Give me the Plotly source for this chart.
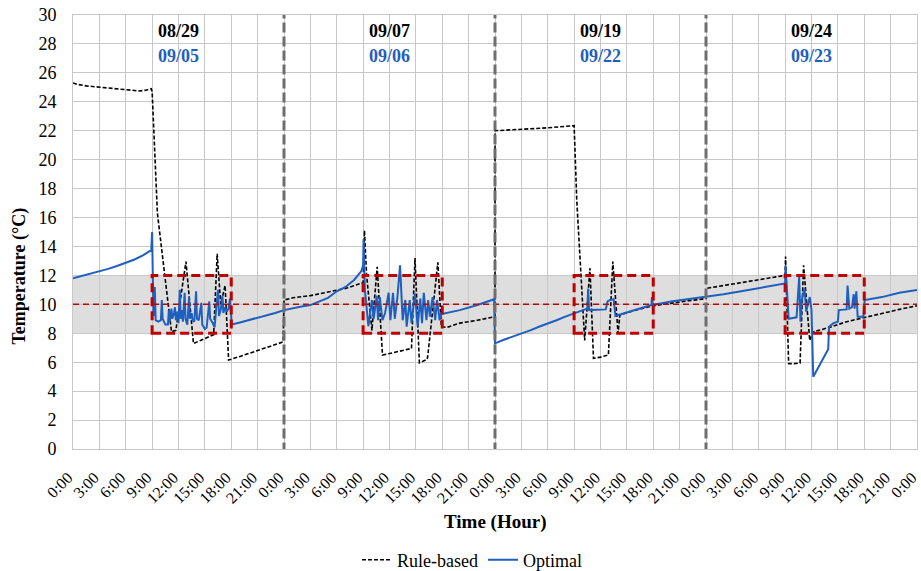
import plotly.graph_objects as go

# ---------------- data ----------------
rb_hour = [0, 0.5, 1.5, 3, 4, 5.5, 6.5, 7.5, 8.3, 8.9, 9.0, 9.6, 11.2, 11.7, 12.85, 13.7, 14.5, 15.2, 16.0, 16.4, 16.8, 17.3, 17.7, 19, 20.5, 22, 23.9,
           24.0, 25, 27, 29, 31, 33.0, 33.15, 33.4, 34.0, 34.6, 35.2, 36, 37, 38.5, 38.9, 39.4, 40.3, 40.4, 41.5, 41.9, 42.5, 44, 46, 48.0,
           48.0, 50, 52, 54, 56, 57.0, 57.3, 58.2, 58.8, 59.2, 60.0, 60.9, 61.4, 62.0, 62.2, 64, 66, 68, 70, 72.0,
           72.0, 74, 76, 78, 80, 81.0, 81.05, 81.4, 82.0, 82.7, 83.1, 83.8, 84.2, 86, 88, 90, 92, 94, 96]
rb_temp = [25.3, 25.2, 25.1, 25.0, 24.95, 24.85, 24.8, 24.75, 24.8, 24.9, 24.7, 16.3, 8.1, 8.2, 12.95, 7.3, 7.5, 7.7, 7.9, 13.5, 10.0, 11.3, 6.15, 6.4, 6.7, 7.0, 7.4,
           10.3, 10.45, 10.6, 10.85, 11.1, 11.5, 15.1, 12.0, 8.2, 12.6, 6.5, 6.6, 6.75, 6.95, 13.2, 5.96, 6.2, 6.7, 12.9, 8.45, 8.4, 8.7, 8.9, 9.15,
           22.0, 22.05, 22.1, 22.2, 22.3, 22.35, 17.2, 7.5, 12.5, 6.27, 6.35, 6.5, 12.95, 8.0, 9.26, 9.6, 9.9, 10.1, 10.25, 10.4,
           11.1, 11.3, 11.5, 11.7, 11.85, 12.0, 13.3, 5.9, 5.9, 5.95, 12.7, 7.5, 8.1, 8.4, 8.8, 9.1, 9.4, 9.65, 9.9]

opt_hour = [0, 1, 2, 3, 4, 5, 6, 7, 8, 8.9, 9.0, 9.05, 9.15, 9.3, 9.4, 9.7, 10.0, 10.1, 10.2, 10.5, 10.8, 10.9, 11.0, 11.2, 11.3, 11.5, 11.6, 11.7,
            11.9, 12.0, 12.15, 12.25, 12.4, 12.5, 12.7, 12.8, 13.0, 13.2, 13.3, 13.5, 13.6, 13.8, 14.0, 14.1, 14.3, 14.6, 14.7, 15.0, 15.2,
            15.5, 15.6, 15.9, 16.1, 16.3, 16.5, 16.6, 16.8, 17.0, 17.1, 17.3, 17.5, 17.7, 17.85, 17.95, 18.05, 19, 20, 21, 22, 23, 24,
            25, 26, 27, 28, 29, 30, 31, 32, 32.8, 33.0, 33.05, 33.2, 33.4, 33.6, 34.0, 34.2, 34.55, 34.7, 34.9, 35.2, 35.5, 35.9, 36.1,
            36.4, 36.6, 36.9, 37.2, 37.5, 37.8, 37.95, 38.3, 38.5, 38.9, 39.2, 39.5, 39.7, 39.9, 40.2, 40.4, 40.6, 40.9, 41.2, 41.4, 41.7,
            41.85, 42.1, 44, 46, 47.9, 48.0,
            49, 50, 51, 52, 53, 54, 55, 56, 57, 58, 58.5, 58.6, 58.7, 59.5, 60.6, 60.8, 61.1, 61.5, 61.7, 62.5, 64, 65.8, 65.85, 65.95,
            68, 70, 72,
            74, 76, 78, 80, 81.0, 81.05, 81.4, 82.3, 82.6, 82.75, 82.9, 83.2, 83.4, 83.6, 83.8, 84.0, 84.2, 85.9, 86.0, 86.5, 87.0, 87.1,
            88.0, 88.1, 88.3, 88.6, 88.8, 88.9, 89.1, 89.25, 89.9, 90.05, 92, 94, 96]
opt_temp = [11.8, 11.95, 12.15, 12.3, 12.45, 12.65, 12.85, 13.1, 13.4, 13.75, 15.0, 13.0, 9.2, 11.2, 8.9, 8.8, 8.9, 10.3, 9.0, 8.6, 8.6, 9.6, 8.8, 9.7, 9.0, 9.4, 9.8, 8.9,
            9.5, 8.7, 11.0, 9.0, 9.6, 8.8, 10.8, 9.0, 8.6, 10.5, 9.0, 9.4, 8.9, 8.8, 10.9, 9.0, 8.9, 10.1, 8.6, 8.3, 8.4,
            10.2, 9.0, 8.7, 8.4, 9.8, 11.0, 9.2, 9.6, 10.6, 9.4, 9.8, 9.5, 9.7, 10.4, 9.6, 8.6, 8.75, 8.9, 9.05, 9.25, 9.4, 9.6,
            9.75, 9.85, 9.95, 10.2, 10.45, 10.9, 11.2, 11.7, 12.3, 12.7, 14.5, 11.0, 9.8, 8.5, 10.3, 9.0, 10.6, 8.9, 10.5, 8.9, 9.4, 10.8, 8.9,
            10.8, 9.0, 10.5, 12.7, 8.9, 10.3, 8.45, 10.3, 8.7, 10.75, 8.45, 10.4, 8.7, 10.8, 8.9, 10.3, 9.15, 10.5, 8.9, 10.3, 8.9,
            9.4, 9.35, 9.6, 9.95, 10.35, 7.3,
            7.55, 7.75, 7.95, 8.2, 8.45, 8.65, 8.9, 9.15, 9.4, 9.6, 9.7, 11.1, 9.6, 9.6, 9.65, 10.2, 10.3, 10.35, 9.2, 9.35, 9.6, 9.95, 10.5, 9.95,
            10.2, 10.35, 10.5,
            10.7, 10.9, 11.1, 11.3, 11.45, 12.7, 9.0, 9.1, 11.9, 8.8, 10.3, 11.1, 9.5, 10.0, 10.5, 9.6, 5.0, 6.9, 8.45, 8.7, 8.8, 9.6,
            9.65, 11.3, 9.7, 9.8, 10.7, 9.7, 10.9, 9.15, 9.15, 10.3, 10.5, 10.8, 11.0]

day_centers = [12, 36, 60, 84]
rb_dates = ["08/29", "09/07", "09/19", "09/24"]
opt_dates = ["09/05", "09/06", "09/22", "09/23"]
day_bounds = [24, 48, 72]
window_starts = [9, 33, 57, 81]
window_ends = [18, 42, 66, 90]
comfort_low, comfort_high, setpoint = 8, 12, 10
tick_vals = list(range(0, 97, 3))
hour_labels = ["0:00", "3:00", "6:00", "9:00", "12:00", "15:00", "18:00", "21:00"]
tick_text = hour_labels * 4 + ["0:00"]

# ---------------- style ----------------
FONT = "Liberation Serif"
BLUE = "#1F5FBF"
RED = "#C00000"
L, T, PW, PH = 73, 15, 844, 434

fig = go.Figure()
fig.add_trace(go.Scatter(x=rb_hour, y=rb_temp, mode="lines", name="Rule-based",
                         line=dict(color="black", width=1.6, dash="4px,2px")))
fig.add_trace(go.Scatter(x=opt_hour, y=opt_temp, mode="lines", name="Optimal",
                         line=dict(color=BLUE, width=2)))

shapes = []
shapes.append(dict(type="rect", xref="x", yref="y", x0=0, x1=96, y0=comfort_low, y1=comfort_high,
                   fillcolor="#DEDEDE", line=dict(width=0), layer="below"))
shapes.append(dict(type="line", xref="x", yref="y", x0=0, x1=96, y0=setpoint, y1=setpoint,
                   line=dict(color=RED, width=1.5, dash="6px,4px"), layer="above"))
for s, e in zip(window_starts, window_ends):
    shapes.append(dict(type="rect", xref="x", yref="y", x0=s, x1=e, y0=comfort_low, y1=comfort_high,
                       line=dict(color=RED, width=3, dash="9px,5px"), fillcolor="rgba(0,0,0,0)", layer="above"))
for b in day_bounds:
    shapes.append(dict(type="line", xref="x", yref="y", x0=b, x1=b, y0=-0.25, y1=30,
                       line=dict(color="#6E6E6E", width=3, dash="10px,4px"), layer="above"))

annotations = []
for c, d1, d2 in zip(day_centers, rb_dates, opt_dates):
    annotations.append(dict(x=c, y=28.9, xref="x", yref="y", text=f"<b>{d1}</b>", showarrow=False,
                            font=dict(family=FONT, size=18, color="black")))
    annotations.append(dict(x=c, y=27.2, xref="x", yref="y", text=f"<b>{d2}</b>", showarrow=False,
                            font=dict(family=FONT, size=18, color=BLUE)))
annotations.append(dict(xref="paper", yref="paper", x=(495 - L) / PW, y=(T + PH - 522) / PH,
                        text="<b>Time (Hour)</b>", showarrow=False, xanchor="center", yanchor="middle",
                        font=dict(family=FONT, size=19, color="black")))
annotations.append(dict(xref="paper", yref="paper", x=(18.5 - L) / PW, y=(T + PH - 276) / PH,
                        text="<b>Temperature (°C)</b>", textangle=-90, showarrow=False,
                        xanchor="center", yanchor="middle",
                        font=dict(family=FONT, size=18, color="black")))

fig.update_layout(
    width=921, height=571,
    margin=dict(l=L, r=921 - L - PW, t=T, b=571 - T - PH, autoexpand=False),
    paper_bgcolor="white", plot_bgcolor="white",
    font=dict(family=FONT, size=17, color="black"),
    showlegend=True,
    legend=dict(orientation="h", x=(472 - L) / PW, xanchor="center", y=(T + PH - 560) / PH, yanchor="middle",
                font=dict(family=FONT, size=18), itemwidth=30, bgcolor="rgba(0,0,0,0)"),
    shapes=shapes, annotations=annotations,
)
fig.update_xaxes(range=[0, 96.0001], tickvals=tick_vals, ticktext=tick_text, tickangle=-45,
                 showgrid=True, gridcolor="#C8C8C8", gridwidth=1, zeroline=False,
                 showline=True, linecolor="#C8C8C8", mirror=True, automargin=False,
                 ticklabeloverflow="allow", ticklabelshift=-5,
                 ticks="outside", ticklen=12, tickcolor="rgba(0,0,0,0)",
                 tickfont=dict(family=FONT, size=16, color="black"))
fig.update_yaxes(range=[0, 30], dtick=2, tick0=0,
                 showgrid=True, gridcolor="#C8C8C8", gridwidth=1, zeroline=False,
                 showline=True, linecolor="#C8C8C8", mirror=True, automargin=False,
                 ticks="outside", ticklen=12, tickcolor="rgba(0,0,0,0)",
                 tickfont=dict(family=FONT, size=18, color="black"))

fig.write_html("out.html")
